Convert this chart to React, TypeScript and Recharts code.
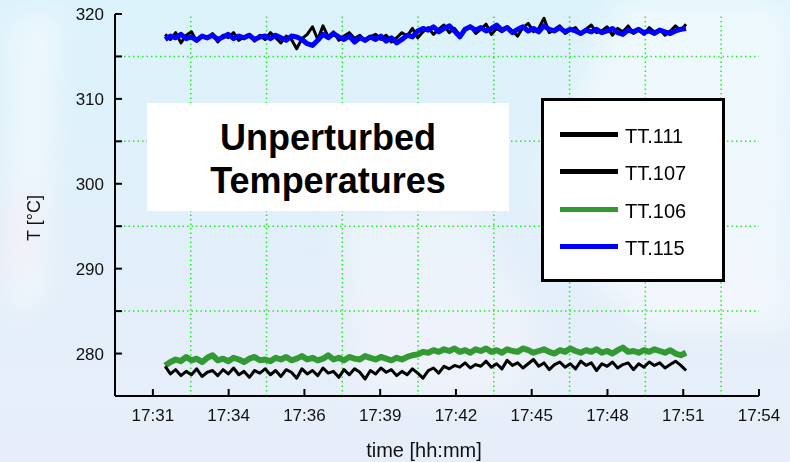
import { LineChart, Line, XAxis, YAxis, ReferenceLine } from 'recharts';

// sample clock: minutes after midnight, one reading every 12 s from 17:31:40
const sampleStart = 1051 + 40 / 60;
const sampleStep = 0.2;

const tt111 = [
  317.6, 317.0, 317.8, 316.6, 317.5, 317.9, 316.8, 317.4, 317.1, 317.7,
  316.7, 317.5, 317.2, 317.8, 316.9, 317.3, 317.6, 316.8, 317.5, 317.0,
  317.8, 317.2, 316.6, 317.4, 317.0, 315.9, 317.1, 317.6, 318.5, 317.0,
  318.6, 317.3, 317.9, 316.9, 317.4, 317.8, 317.1, 317.5, 316.8, 317.3,
  317.6, 317.0, 317.5, 316.7, 317.2, 317.8, 317.4, 318.3, 317.2, 317.9,
  318.4, 317.6, 318.2, 318.7, 317.8, 318.3, 317.5, 318.1, 318.6, 317.7,
  318.2, 318.8, 317.6, 318.3, 317.9, 318.5, 318.0, 317.4, 318.4, 318.9,
  317.9, 318.3, 319.5, 317.8, 318.2, 318.6, 317.7, 318.1, 318.4, 317.6,
  318.2, 318.7, 317.8, 318.0, 318.5, 317.5, 318.3, 317.9, 318.6, 317.7,
  318.1, 317.6, 318.4, 317.9, 318.2, 317.5, 318.0, 318.6, 318.1, 318.8,
];

const tt115 = [
  317.0, 317.4, 317.2, 317.6, 317.1, 317.3, 316.9, 317.4, 317.2, 317.5,
  317.0, 317.3, 317.6, 317.1, 317.4, 317.2, 317.5, 317.0, 317.3, 317.4,
  317.1, 317.5, 317.2, 316.9, 317.4, 317.3, 317.0, 316.5, 316.3, 316.9,
  317.6, 317.2, 317.7, 317.3, 317.0, 317.4, 316.7, 317.2, 316.9, 317.3,
  317.0, 317.4, 316.8, 317.2, 316.6, 317.0, 317.5, 317.3, 318.0, 318.3,
  318.1, 318.5, 317.9, 318.3, 318.6, 318.0, 317.3, 318.2, 318.5, 318.1,
  318.4, 318.0, 318.3, 318.7, 318.1, 318.4, 317.8, 318.2, 318.5, 318.0,
  318.3, 317.9, 318.6, 318.2, 318.0, 318.4, 317.9, 318.2, 318.0, 317.7,
  318.1, 317.9, 318.2, 317.8, 318.0, 318.3, 317.8, 317.6, 318.1, 317.9,
  318.2, 317.8, 318.0, 317.7, 318.1, 317.9, 317.7, 318.0, 318.2, 318.3,
];

const tt107 = [
  278.5, 277.6, 278.1, 277.4, 277.9, 277.5, 278.2, 277.3, 277.8, 278.0,
  277.4, 278.1, 277.6, 278.3, 277.5, 277.9, 277.2, 278.0, 277.7, 278.2,
  277.5, 278.0, 277.3, 278.1, 277.8, 277.1, 278.2, 277.6, 278.0, 277.4,
  278.3, 277.7, 277.9, 277.2, 278.1, 277.5, 278.2, 277.8, 277.0, 278.0,
  277.6, 278.3, 277.8, 278.1, 277.4, 277.9, 277.5, 278.2, 277.7, 277.1,
  278.0, 278.3, 277.7, 278.5, 278.2, 278.6, 278.4, 278.9, 278.3, 278.7,
  278.5, 279.1, 278.4, 278.8, 278.2, 279.2, 278.6, 278.9, 278.3, 278.8,
  279.3, 278.5, 278.9, 278.1, 278.7, 279.0, 278.4, 278.8, 278.2, 279.1,
  278.6, 278.9, 278.0, 278.8, 278.5, 279.0, 278.3, 278.7, 278.9, 278.1,
  278.8, 278.4, 279.0, 278.6, 278.9, 278.3, 278.7, 279.1, 278.6, 278.0,
];

const tt106 = [
  278.6, 279.0, 279.3, 279.1, 279.6, 279.2, 279.4, 279.0, 279.5, 279.8,
  279.2, 279.4, 279.1, 279.5, 279.3, 279.0, 279.4, 279.6, 279.2, 279.3,
  279.1, 279.5, 279.3, 279.6, 279.2, 279.4, 279.7, 279.3, 279.5, 279.2,
  279.4, 279.8, 279.3, 279.5, 279.2, 279.6, 279.4, 279.3, 279.7, 279.5,
  279.3, 279.6, 279.4, 279.2, 279.5, 279.3, 279.6, 279.8, 279.9, 280.2,
  280.1, 280.4, 280.2, 280.5, 280.3, 280.6, 280.2, 280.4, 280.1, 280.5,
  280.3, 280.6, 280.2, 280.4, 280.1, 280.5, 280.3, 280.2, 280.6, 280.4,
  280.1, 280.3, 280.5, 280.2, 280.0, 280.4, 280.2, 280.6, 280.3, 280.1,
  280.4, 280.2, 280.5, 280.1, 280.3, 280.0, 280.4, 280.7, 280.2, 280.3,
  280.1, 280.4, 280.2, 280.5, 280.3, 280.1, 280.4, 280.0, 279.8, 280.1,
];

// x ticks every 0.002 day (2.88 min), in minutes after midnight
const timeTicks = [1051.2, 1054.08, 1056.96, 1059.84, 1062.72, 1065.6, 1068.48, 1071.36, 1074.24];
const timeLabels = ['17:31', '17:34', '17:36', '17:39', '17:42', '17:45', '17:48', '17:51', '17:54'];
const timeGrid = [1052.64, 1055.52, 1058.4, 1061.28, 1064.16, 1067.04, 1069.92, 1072.8];
const xDomain = [1049.76, 1074.24];

const tempTicks = [275, 280, 285, 290, 295, 300, 305, 310, 315, 320];
const tempGrid = [285, 295, 305, 315];

const seriesOrder = [
  { key: 'tt111', color: '#000000', width: 3 },
  { key: 'tt106', color: '#339933', width: 6 },
  { key: 'tt107', color: '#000000', width: 3 },
  { key: 'tt115', color: '#0000ff', width: 5 },
];

const legendItems = [
  { name: 'TT.111', color: '#000000' },
  { name: 'TT.107', color: '#000000' },
  { name: 'TT.106', color: '#339933' },
  { name: 'TT.115', color: '#0000ff' },
];

const data = tt111.map((v, i) => ({
  t: sampleStart + i * sampleStep,
  tt111: v,
  tt115: tt115[i],
  tt107: tt107[i],
  tt106: tt106[i],
}));

const FONT = '"Liberation Sans", Arial, Helvetica, sans-serif';
const gridGreen = '#22ee22';

function Background() {
  return (
    <svg width={790} height={462} style={{ position: 'absolute', left: 0, top: 0 }}>
      <defs>
        <linearGradient id="bg" x1="0" y1="0" x2="0" y2="1">
          <stop offset="0%" stopColor="#dcf3fb" />
          <stop offset="55%" stopColor="#e2effa" />
          <stop offset="100%" stopColor="#e8eef9" />
        </linearGradient>
        <filter id="soft" x="-20%" y="-20%" width="140%" height="140%">
          <feGaussianBlur stdDeviation="14" />
        </filter>
      </defs>
      <rect width={790} height={462} fill="url(#bg)" />
      <g filter="url(#soft)">
        <polygon points="10,20 60,10 45,300 10,320" fill="#ffffff" opacity={0.45} />
        <polygon points="0,200 40,190 30,270 0,280" fill="#fbe9f0" opacity={0.4} />
        <polygon points="620,0 790,0 790,330 650,330 560,250 540,180" fill="#ffffff" opacity={0.5} />
        <polygon points="340,220 470,200 540,330 520,400 360,400" fill="#f4f6fc" opacity={0.55} />
      </g>
    </svg>
  );
}

export default function App() {
  return (
    <div
      style={{
        position: 'absolute',
        left: 0,
        top: 0,
        width: 790,
        height: 462,
        overflow: 'hidden',
        fontFamily: FONT,
      }}
    >
      <Background />
      <div style={{ position: 'absolute', left: 0, top: 0 }}>
        <LineChart
          width={790}
          height={462}
          data={data}
          margin={{ top: 14, right: 31, bottom: 0, left: 55 }}
        >
          <XAxis
            dataKey="t"
            type="number"
            domain={xDomain}
            ticks={timeTicks}
            interval={0}
            allowDataOverflow
            height={66}
            tickSize={-7}
            tickMargin={20}
            tickFormatter={(v: number) => timeLabels[timeTicks.indexOf(v)] ?? ''}
            tick={{ fill: '#111', fontSize: 17, fontFamily: FONT }}
            axisLine={{ stroke: '#000', strokeWidth: 2 }}
            tickLine={{ stroke: '#000', strokeWidth: 2 }}
          />
          <XAxis
            xAxisId="top"
            orientation="top"
            dataKey="t"
            type="number"
            domain={xDomain}
            ticks={timeTicks}
            interval={0}
            allowDataOverflow
            height={0}
            tickSize={-7}
            tick={false}
            axisLine={{ stroke: '#000', strokeWidth: 2 }}
            tickLine={{ stroke: '#000', strokeWidth: 2 }}
          />
          <YAxis
            type="number"
            domain={[275, 320]}
            ticks={tempTicks}
            interval={0}
            allowDataOverflow
            width={60}
            tickSize={-7}
            tickMargin={18}
            tickFormatter={(v: number) => (v % 10 === 0 ? String(v) : '')}
            tick={{ fill: '#111', fontSize: 17, fontFamily: FONT }}
            axisLine={{ stroke: '#000', strokeWidth: 2 }}
            tickLine={{ stroke: '#000', strokeWidth: 2 }}
          />
          <YAxis
            yAxisId="right"
            orientation="right"
            type="number"
            domain={[275, 320]}
            width={0}
            tick={false}
            tickLine={false}
            axisLine={{ stroke: '#000', strokeWidth: 2 }}
          />
          {timeGrid.map((x) => (
            <ReferenceLine
              key={`gx-${x}`}
              x={x}
              stroke={gridGreen}
              strokeWidth={1.5}
              strokeDasharray="1.5 3"
            />
          ))}
          {tempGrid.map((y) => (
            <ReferenceLine
              key={`gy-${y}`}
              y={y}
              stroke={gridGreen}
              strokeWidth={1.5}
              strokeDasharray="1.5 3"
            />
          ))}
          {seriesOrder.map((s) => (
            <Line
              key={s.key}
              dataKey={s.key}
              type="linear"
              stroke={s.color}
              strokeWidth={s.width}
              strokeLinejoin="round"
              dot={false}
              activeDot={false}
              isAnimationActive={false}
            />
          ))}
        </LineChart>
      </div>

      {/* title box */}
      <div
        style={{
          position: 'absolute',
          left: 147,
          top: 103,
          width: 362,
          height: 108,
          background: '#fff',
          boxSizing: 'border-box',
          paddingTop: 13,
          textAlign: 'center',
          fontSize: 36,
          fontWeight: 700,
          lineHeight: '43px',
          color: '#000',
        }}
      >
        <div>Unperturbed</div>
        <div>Temperatures</div>
      </div>

      {/* legend */}
      <div
        style={{
          position: 'absolute',
          left: 541,
          top: 98,
          width: 184,
          height: 184,
          background: '#fff',
          border: '3px solid #000',
          boxSizing: 'border-box',
        }}
      >
        {legendItems.map((item, i) => (
          <div
            key={item.name}
            style={{
              position: 'absolute',
              left: 16,
              top: 23 + i * 37.5,
              height: 20,
              display: 'flex',
              alignItems: 'center',
            }}
          >
            <span
              style={{
                display: 'inline-block',
                width: 58,
                height: 5,
                background: item.color,
              }}
            />
            <span style={{ marginLeft: 7, fontSize: 20, lineHeight: '20px', paddingTop: 3, color: '#000' }}>
              {item.name}
            </span>
          </div>
        ))}
      </div>

      {/* axis titles */}
      <div
        style={{
          position: 'absolute',
          left: 424,
          top: 440,
          transform: 'translateX(-50%)',
          fontSize: 20,
          lineHeight: '20px',
          whiteSpace: 'nowrap',
          color: '#111',
        }}
      >
        time [hh:mm]
      </div>
      <div
        style={{
          position: 'absolute',
          left: 34,
          top: 218,
          transform: 'translate(-50%, -50%) rotate(-90deg)',
          fontSize: 18,
          lineHeight: '18px',
          whiteSpace: 'nowrap',
          color: '#111',
        }}
      >
        T [°C]
      </div>
    </div>
  );
}
